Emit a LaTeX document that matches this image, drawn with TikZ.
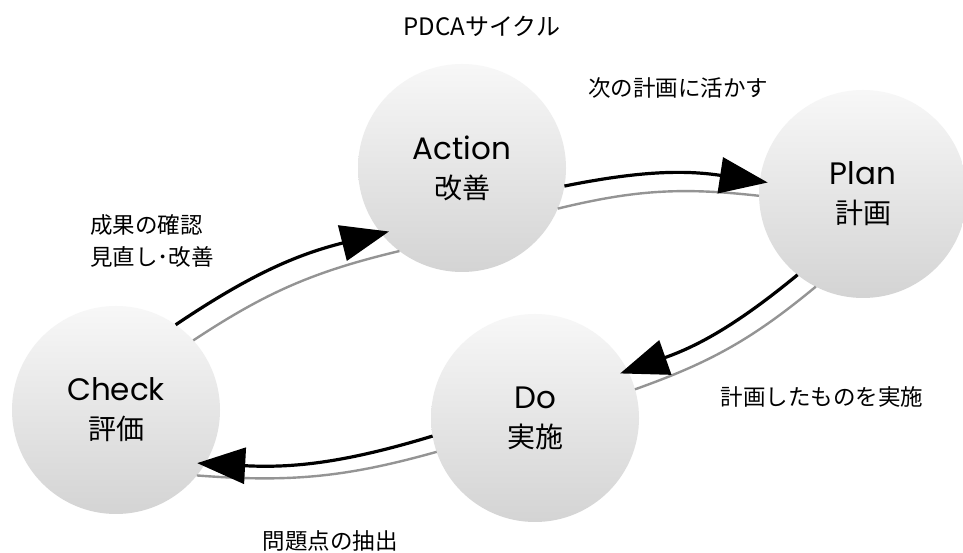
\documentclass[tikz,border=0pt]{standalone}
\usepackage{fontspec}
\setmainfont{Noto Sans CJK JP}
\newfontfamily\latinfont{Poppins}
\usetikzlibrary{arrows.meta,shapes.geometric}
\begin{document}
\begin{tikzpicture}[x=1pt,y=1pt,
  stage/.style={circle, minimum size=208pt, inner sep=0pt, outer sep=0pt,
    top color=black!3, bottom color=black!17, draw=none, align=center,
    font=\fontsize{28}{39}\selectfont},
  lbl/.style={font=\fontsize{22.5}{32}\selectfont, inner sep=0pt},
  flow/.style={line width=3.2pt, black, -{Triangle[length=48pt,width=36pt]}, shorten >=-8pt},
  shadeline/.style={line width=2.4pt, black!42},
]
\useasboundingbox (0,0) rectangle (963,553);
\fill[white] (0,0) rectangle (963,553);

\node[stage] (check) at (116,143) {{\latinfont\fontsize{31}{39}\selectfont Check}\\ 評価};
\node[stage] (action) at (462,385) {{\latinfont\fontsize{31}{39}\selectfont Action}\\ 改善};
\node[stage] (plan) at (863,359) {{\latinfont\fontsize{31}{39}\selectfont Plan}\\ 計画};
\node[stage] (do) at (535,135) {{\latinfont\fontsize{31}{39}\selectfont Do}\\ 実施};

\node[lbl, font=\fontsize{24}{30}\selectfont] (title) at (482,527) {PDCAサイクル};
\node[lbl] (lap) at (678,465) {次の計画に活かす};
\node[lbl, anchor=west, align=left] (lca) at (90,312) {成果の確認\\見直し･改善};
\node[lbl] (lpd) at (822,156) {計画したものを実施};
\node[lbl] (ldc) at (330,12) {問題点の抽出};

% shadow lines
\draw[shadeline] (check.42) to[bend left=10] (action.233);
\draw[shadeline] (action.-23) to[bend left=10] (plan.181);
\draw[shadeline] (plan.243) to[bend left=10] (do.16);
\draw[shadeline] (do.199) to[bend left=10] (check.-39);

% arrows
\draw[flow] (check.55) to[bend left=10] (action.219);
\draw[flow] (action.-10) to[bend left=10] (plan.173);
\draw[flow] (plan.231) to[bend left=10] (do.27);
\draw[flow] (do.190) to[bend left=10] (check.-31);
\end{tikzpicture}
\end{document}
